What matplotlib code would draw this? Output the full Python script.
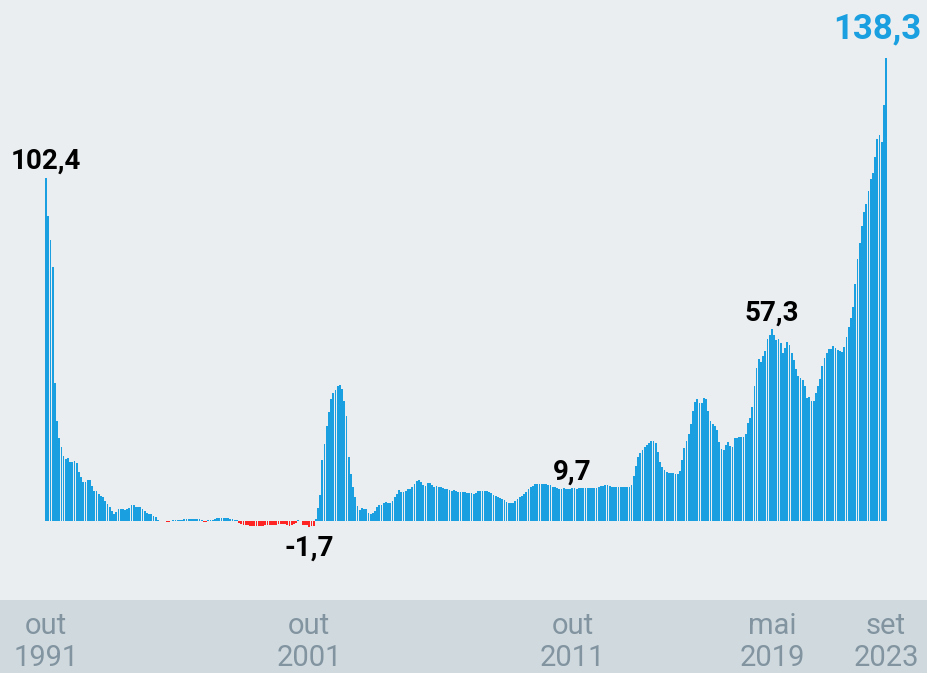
import matplotlib.pyplot as plt
import numpy as np
from matplotlib.patches import Rectangle

# monthly values, out/1991 .. set/2023
vals_1991_1996 = [102.4, 91.0, 83.9, 75.8, 41.2, 29.9, 24.8, 22.1, 19.4, 18.5,
                  18.7, 17.7, 17.6, 17.9, 17.4, 14.7, 13.0, 11.5, 11.5, 12.2,
                  12.2, 10.5, 8.9, 8.9, 8.0, 7.5, 7.0, 6.1, 5.1, 4.1,
                  3.0, 2.1, 2.8, 3.5, 3.5, 3.5, 3.3, 3.5, 4.0, 4.8,
                  4.8, 4.3, 4.3, 4.1, 3.5, 2.9, 2.3, 2.0, 2.0, 1.6,
                  1.3, 0.3, 0.1, 0.1, 0.1, -0.2, -0.2, 0.1, 0.2, 0.3]
vals_1996_2001 = [0.3, 0.3, 0.3, 0.5, 0.6, 0.7, 0.7, 0.6, 0.7, 0.6,
                  0.5, 0.4, -0.2, -0.2, 0.4, 0.4, 0.4, 0.5, 0.8, 0.9,
                  0.9, 0.8, 0.8, 0.8, 0.7, 0.6, 0.3, 0.2,
                  -0.6, -1.0, -1.1, -1.2, -1.3, -1.5, -1.6, -1.6, -1.6, -1.5,
                  -1.4, -1.4, -1.3, -1.3, -1.3, -1.2, -1.2, -1.1, -1.0, -1.0,
                  -0.9, -1.0, -1.1, -1.5, -1.3, -0.8, -0.5, 0.2, 0.1, -1.2,
                  -1.3, -1.2, -1.7, -1.5, -1.4]
vals_2001_2007 = [0.5, 3.8, 7.8, 18.2, 22.9, 28.2, 32.6, 36.3, 38.1, 39.1,
                  40.4, 40.6, 39.3, 35.9, 31.4, 19.2, 13.9, 10.0, 7.1, 4.6,
                  3.3, 3.8, 3.5, 3.5, 2.3, 2.1, 2.5, 3.0, 4.1, 4.8,
                  4.8, 5.3, 5.7, 5.5, 5.3, 6.1, 7.1, 8.1, 9.1, 8.6,
                  8.6, 8.8, 9.5, 9.6, 10.2, 10.9, 12.0, 12.2, 11.7, 10.7,
                  10.4, 11.2, 11.2, 10.7, 10.2, 10.4, 10.2, 10.2, 9.8, 9.6,
                  9.6, 9.3, 9.0]
vals_2007_2012 = [9.1, 8.8, 8.5, 8.5, 8.5, 8.5, 8.4, 8.4, 8.3, 8.1,
                  8.4, 8.8, 9.0, 9.0, 9.0, 8.8, 8.6, 8.2, 7.6, 7.4,
                  7.1, 6.8, 6.6, 6.2, 5.8, 5.5, 5.3, 5.5, 5.9, 6.4,
                  7.0, 7.5, 8.0, 8.7, 9.4, 10.0, 10.5, 10.9, 11.0, 11.0,
                  11.0, 10.9, 10.9, 10.8, 10.6, 10.2, 10.0, 9.7, 9.6, 9.6,
                  9.7, 9.6, 9.5, 9.6, 9.7, 9.7, 9.6, 9.7, 9.8, 9.8]
vals_2012_2017 = [9.7, 9.8, 9.8, 9.8, 9.8, 9.9, 10.0, 10.3, 10.5, 10.8,
                  10.7, 10.3, 10.2, 10.2, 10.0, 10.2, 10.2, 10.2, 10.2, 10.2,
                  10.2, 10.8, 13.4, 16.5, 19.2, 20.2, 21.2, 22.0, 22.7, 23.4,
                  23.9, 23.8, 23.4, 20.5, 17.5, 16.2, 15.2, 14.7, 14.4, 14.4,
                  14.2, 14.0, 14.0, 14.9, 18.2, 21.7, 23.9, 26.0, 28.9, 32.8,
                  35.6, 36.5, 35.3, 35.3, 36.8, 36.5, 32.9, 29.9, 29.0, 28.2,
                  27.2]
vals_2017_2023 = [23.7, 21.5, 21.2, 22.7, 23.5, 22.5, 22.2, 24.7, 24.9, 25.2,
                  25.2, 25.2, 26.0, 29.2, 30.8, 34.1, 40.3, 45.6, 48.3, 47.4,
                  49.1, 50.8, 54.4, 55.5, 57.3, 55.5, 54.0, 54.2, 53.2, 50.2,
                  51.7, 53.5, 52.5, 50.0, 48.1, 45.3, 43.3, 42.6, 42.1, 40.4,
                  36.6, 36.9, 35.8, 35.9, 38.1, 40.4, 42.3, 46.1, 48.6, 50.0,
                  51.3, 51.2, 52.2, 51.7, 51.0, 50.7, 50.5, 52.0, 55.0, 58.0,
                  60.5, 64.0, 70.7, 78.1, 82.9, 87.9, 92.1, 94.6, 98.5, 102.2,
                  104.0, 108.6, 113.9, 115.2, 113.2, 124.2, 138.3]

values = np.array(vals_1991_1996 + vals_1996_2001 + vals_2001_2007 +
                  vals_2007_2012 + vals_2012_2017 + vals_2017_2023)
months = np.arange(len(values))

tick_pos = [0, 120, 240, 331, len(values) - 1]
tick_labels = ['out\n1991', 'out\n2001', 'out\n2011', 'mai\n2019', 'set\n2023']

plt.rcParams['font.family'] = ['Roboto', 'DejaVu Sans']

fig = plt.figure(figsize=(9.27, 6.73), dpi=100, facecolor='#eaeef1')
band = 73 / 673
fig.patches.append(Rectangle((0, 0), 1, band, transform=fig.transFigure,
                             color='#d0d9de', zorder=-10))
ax = fig.add_axes([0, band, 1, 1 - band])
ax.set_facecolor('#eaeef1')

colors = np.where(values < 0, '#ff2424', '#1a9fe0')
ax.bar(months, values, width=0.82, color=colors, linewidth=0)

ax.set_xlim(-21, 401.7)
ax.set_ylim(-23.6, 155.5)
for s in ax.spines.values():
    s.set_visible(False)
ax.set_yticks([])
ax.set_xticks(tick_pos, tick_labels)
ax.tick_params(axis='x', length=0, pad=9, labelsize=21, labelcolor='#8194a0')
for t in ax.get_xticklabels():
    t.set_linespacing(1.15)

def fmt(v):
    return f'{v:.1f}'.replace('.', ',')

for i in tick_pos[:4]:
    v = values[i]
    if v < 0:
        ax.annotate(fmt(v), (i, v), xytext=(0, -6), textcoords='offset points',
                    ha='center', va='top', fontsize=20, fontweight='bold')
    else:
        ax.annotate(fmt(v), (i, v), xytext=(0, 2), textcoords='offset points',
                    ha='center', va='bottom', fontsize=20, fontweight='bold')

last = tick_pos[-1]
ax.annotate(fmt(values[last]), (last, values[last]), xytext=(-6, 9),
            textcoords='offset points', ha='center', va='bottom',
            fontsize=25, fontweight='bold', color='#1a9fe0',
            annotation_clip=False)

fig.savefig('out.png', dpi=100, facecolor=fig.get_facecolor())
